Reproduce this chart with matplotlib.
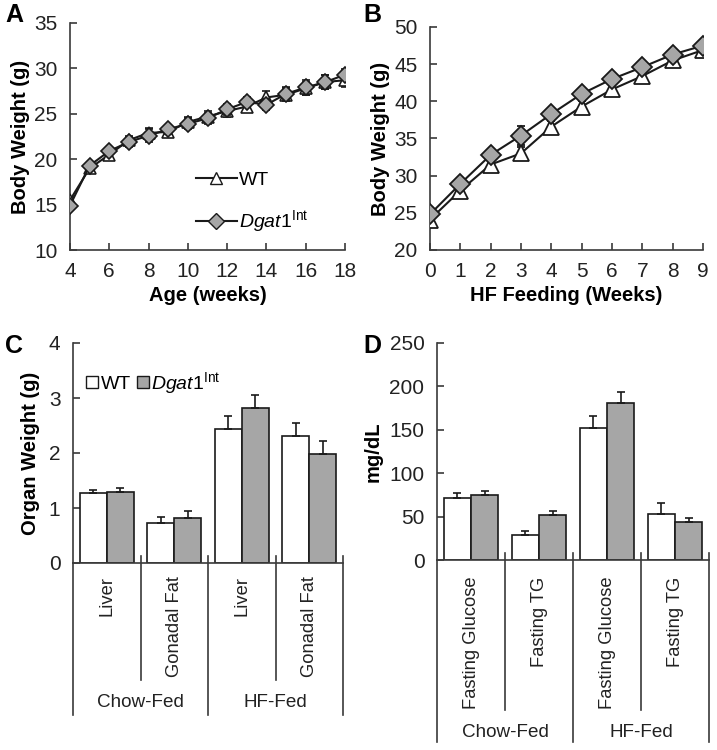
import numpy as np
import matplotlib
matplotlib.use("Agg")
import matplotlib.pyplot as plt
from matplotlib.transforms import blended_transform_factory
from matplotlib.patches import Patch
from matplotlib.lines import Line2D

plt.rcParams["font.family"] = ["Liberation Sans", "DejaVu Sans"]
plt.rcParams["mathtext.fontset"] = "custom"
plt.rcParams["mathtext.rm"] = "Liberation Sans"
plt.rcParams["mathtext.it"] = "Liberation Sans:italic"

# ----------------------------------------------------------------------------
# Data
# ----------------------------------------------------------------------------
age_weeks = [4, 5, 6, 7, 8, 9, 10, 11, 12, 13, 14, 15, 16, 17, 18]
age_wt = [15.5, 19.0, 20.5, 22.1, 22.9, 23.0, 24.1, 24.7, 25.3, 25.8, 26.8,
          27.1, 27.8, 28.5, 28.7]
age_wt_err = [0.3, 0.4, 0.4, 0.5, 0.5, 0.5, 0.6, 0.6, 0.6, 0.6, 0.7, 0.7,
              0.7, 0.8, 0.7]
age_dg = [14.9, 19.3, 20.9, 21.9, 22.6, 23.3, 23.9, 24.5, 25.5, 26.3, 26.0,
          27.2, 27.9, 28.5, 29.3]
age_dg_err = [0.3, 0.4, 0.4, 0.6, 0.7, 0.5, 0.6, 0.6, 0.6, 0.5, 0.6, 0.7,
              0.8, 0.8, 0.6]

hf_weeks = [0, 1, 2, 3, 4, 5, 6, 7, 8, 9]
hf_wt = [24.1, 28.0, 31.5, 33.0, 36.6, 39.3, 41.6, 43.4, 45.5, 46.9]
hf_wt_err = [0.5, 0.6, 0.7, 0.9, 0.8, 0.8, 0.8, 0.8, 0.6, 0.5]
hf_dg = [24.8, 28.9, 32.8, 35.4, 38.3, 41.0, 43.0, 44.6, 46.3, 47.5]
hf_dg_err = [0.5, 0.6, 0.7, 1.3, 0.7, 0.7, 0.6, 0.6, 0.5, 0.4]

organ_labels = ["Liver", "Gonadal Fat", "Liver", "Gonadal Fat"]
organ_wt = [1.27, 0.72, 2.44, 2.31]
organ_wt_err = [0.06, 0.12, 0.24, 0.23]
organ_dg = [1.30, 0.82, 2.81, 1.98]
organ_dg_err = [0.06, 0.13, 0.24, 0.23]

serum_labels = ["Fasting Glucose", "Fasting TG", "Fasting Glucose", "Fasting TG"]
serum_wt = [71, 29, 152, 53]
serum_wt_err = [6, 4, 14, 13]
serum_dg = [75, 52, 181, 44]
serum_dg_err = [5, 5, 12, 4]

diet_labels = ["Chow-Fed", "HF-Fed"]

DG_LABEL = r"$\mathit{Dgat1}^{\mathrm{Int}}$"
GREY = "#a6a6a6"
DARK = "#1a1a1a"
SPINE = "#3a3a3a"
TICK_FS = 15
LAB_FS = 14.5
CAT_FS = 13.2
GRP_FS = 13.6

W, H = 717, 750
fig = plt.figure(figsize=(W / 100, H / 100), dpi=100)


def px_axes(left, right, top, bottom):
    return fig.add_axes([left / W, 1 - bottom / H, (right - left) / W,
                         (bottom - top) / H])


def style(ax):
    for s in ("top", "right"):
        ax.spines[s].set_visible(False)
    for s in ("left", "bottom"):
        ax.spines[s].set_color(SPINE)
        ax.spines[s].set_linewidth(1.2)
    ax.tick_params(direction="in", length=5, width=1.2, color=SPINE,
                   labelsize=TICK_FS, pad=9, labelcolor="#222222")


# ----------------------------------------------------------------------------
# A: body weight vs age
# ----------------------------------------------------------------------------
axA = px_axes(70, 345, 23, 250)
style(axA)
axA.errorbar(age_weeks, age_wt, yerr=age_wt_err, color=DARK, lw=1.5,
             marker="^", ms=9, mfc="white", mec=DARK, mew=1.2,
             capsize=3, elinewidth=1.2, zorder=3)
axA.errorbar(age_weeks, age_dg, yerr=age_dg_err, color=DARK, lw=1.5,
             marker="D", ms=8, mfc=GREY, mec=DARK, mew=1.2,
             capsize=3, elinewidth=1.2, zorder=4)
axA.set_xlim(4, 18)
axA.set_ylim(10, 35)
axA.set_xticks(range(4, 19, 2))
axA.set_yticks(range(10, 36, 5))
axA.set_xlabel("Age (weeks)", fontsize=LAB_FS, fontweight="bold", labelpad=3)
axA.set_ylabel("Body Weight (g)", fontsize=LAB_FS, fontweight="bold",
               labelpad=3)
hA = [Line2D([0], [0], color=DARK, lw=1.5, marker="^", ms=9, mfc="white",
             mec=DARK),
      Line2D([0], [0], color=DARK, lw=1.5, marker="D", ms=8, mfc=GREY,
             mec=DARK)]
axA.legend(hA, ["WT", DG_LABEL], loc="upper left",
           bbox_to_anchor=(0.43, 0.38), frameon=False, fontsize=14,
           handlelength=2.1, handletextpad=0.1, labelspacing=1.0,
           borderaxespad=0)

# ----------------------------------------------------------------------------
# B: body weight during HF feeding
# ----------------------------------------------------------------------------
axB = px_axes(430, 703, 27, 250)
style(axB)
axB.errorbar(hf_weeks, hf_wt, yerr=hf_wt_err, color=DARK, lw=1.5,
             marker="^", ms=12, mfc="white", mec=DARK, mew=1.3,
             capsize=3, elinewidth=1.2, zorder=3)
axB.errorbar(hf_weeks, hf_dg, yerr=hf_dg_err, color=DARK, lw=1.5,
             marker="D", ms=10, mfc=GREY, mec=DARK, mew=1.3,
             capsize=3, elinewidth=1.2, zorder=4)
axB.set_xlim(0, 9)
axB.set_ylim(20, 50)
axB.set_xticks(hf_weeks)
axB.set_yticks(range(20, 51, 5))
axB.set_xlabel("HF Feeding (Weeks)", fontsize=LAB_FS, fontweight="bold",
               labelpad=3)
axB.set_ylabel("Body Weight (g)", fontsize=LAB_FS, fontweight="bold",
               labelpad=3)


# ----------------------------------------------------------------------------
# C / D: grouped bars with category brackets below
# ----------------------------------------------------------------------------
def bar_panel(ax, labels, wt, wt_err, dg, dg_err, ymax, ystep,
              short_end, long_end, lab_top, grp_y):
    style(ax)
    ax.spines["bottom"].set_visible(False)
    x = np.arange(len(labels)) + 0.5
    bw = 0.4
    ax.bar(x - bw / 2, wt, bw, yerr=[np.zeros(len(wt)), wt_err],
           color="white", edgecolor=DARK, lw=1.2, capsize=3,
           error_kw=dict(elinewidth=1.2, capthick=1.2, ecolor=DARK), zorder=3)
    ax.bar(x + bw / 2, dg, bw, yerr=[np.zeros(len(dg)), dg_err],
           color=GREY, edgecolor=DARK, lw=1.2, capsize=3,
           error_kw=dict(elinewidth=1.2, capthick=1.2, ecolor=DARK), zorder=3)
    ax.set_xlim(0, len(labels))
    ax.set_ylim(0, ymax)
    ax.set_yticks(np.arange(0, ymax + ystep / 2, ystep))
    ax.set_xticks([])
    tr = blended_transform_factory(ax.transData, ax.transAxes)
    ax.plot([0, len(labels)], [0, 0], transform=tr, color=SPINE, lw=1.2,
            clip_on=False, zorder=5)
    for i in range(len(labels) + 1):
        end = long_end if i % 2 == 0 else short_end
        top = 0.0 if i == 0 else 0.03
        ax.plot([i, i], [top, end], transform=tr, color=SPINE, lw=1.2,
                clip_on=False)
    for xi, lab in zip(x, labels):
        ax.text(xi, lab_top, lab, transform=tr, rotation=90, ha="center",
                va="top", fontsize=CAT_FS, color="#222222")
    for j, lab in enumerate(diet_labels):
        ax.text(2 * j + 1, grp_y, lab, transform=tr, ha="center",
                va="center", fontsize=GRP_FS, color="#222222")


axC = px_axes(73, 343, 343, 563)
bar_panel(axC, organ_labels, organ_wt, organ_wt_err, organ_dg, organ_dg_err,
          4, 1, -0.53, -0.69, -0.06, -0.635)
axC.set_ylabel("Organ Weight (g)", fontsize=LAB_FS, fontweight="bold",
               labelpad=6)
hC = [Patch(facecolor="white", edgecolor=DARK, lw=1),
      Patch(facecolor=GREY, edgecolor=DARK, lw=1)]
axC.legend(hC, ["WT", DG_LABEL], loc="center left",
           bbox_to_anchor=(0.02, 0.82), frameon=False, fontsize=14, ncol=2,
           handlelength=0.6, handleheight=0.6, handletextpad=0.15,
           columnspacing=0.3, borderaxespad=0)

axD = px_axes(437, 709, 343, 560)
bar_panel(axD, serum_labels, serum_wt, serum_wt_err, serum_dg, serum_dg_err,
          250, 50, -0.69, -0.84, -0.075, -0.795)
axD.set_ylabel("mg/dL", fontsize=LAB_FS, fontweight="bold", labelpad=5)

# panel letters
for lbl, xx, yy in [("A", 5, 3), ("B", 363, 3), ("C", 5, 334), ("D", 363, 334)]:
    fig.text(xx / W, 1 - yy / H, lbl, fontsize=18, fontweight="bold",
             ha="left", va="top")

fig.savefig("out.png", dpi=100)
